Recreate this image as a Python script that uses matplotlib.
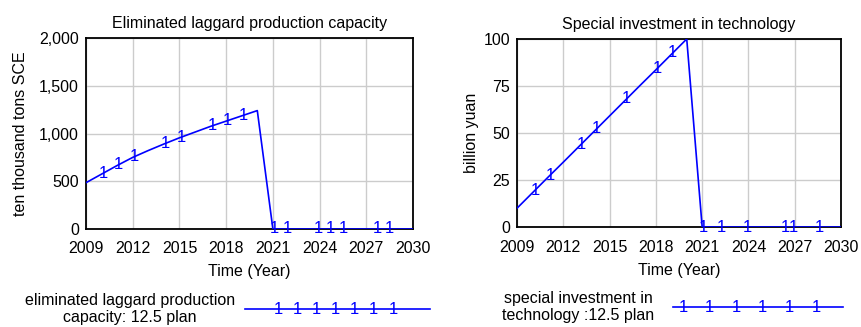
import numpy as np
import matplotlib.pyplot as plt
from matplotlib.lines import Line2D

plt.rcParams['font.family'] = ['Liberation Sans', 'DejaVu Sans']

years = np.arange(2009, 2031)
# eliminated laggard production capacity (ten thousand tons SCE)
capacity = [485, 575, 665, 750, 822, 890, 955, 1015, 1075, 1130, 1185, 1240,
            0, 0, 0, 0, 0, 0, 0, 0, 0, 0]
# special investment in technology (billion yuan)
investment = [10, 18.2, 26.4, 34.5, 42.7, 50.9, 59.1, 67.3, 75.5, 83.6, 91.8,
              100, 0, 0, 0, 0, 0, 0, 0, 0, 0, 0]

# where the "1" run markers sit (years)
cap_marks = [2010.1, 2011.1, 2012.1, 2014.1, 2015.1, 2017.1, 2018.1, 2019.1,
             2021.07, 2021.93, 2023.9, 2024.7, 2025.5, 2027.7, 2028.5]
inv_marks = [2010.17, 2011.14, 2013.15, 2014.17, 2016.1, 2018.1, 2019.1,
             2021.1, 2022.27, 2023.9, 2026.4, 2026.9, 2028.6]

xticks = [2009, 2012, 2015, 2018, 2021, 2024, 2027, 2030]
blue = '#0000ff'
fs = 11.5

fig = plt.figure(figsize=(8.61, 3.27), dpi=100)
ax1 = fig.add_axes([0.0999, 0.2997, 0.3798, 0.584])
ax2 = fig.add_axes([0.6005, 0.3058, 0.3763, 0.575])


def draw(ax, y, marks, ylim, yticks, title, ylabel, ylx, xly):
    ax.plot(years, y, color=blue, lw=1.2, zorder=3)
    for m in marks:
        ax.text(m, np.interp(m, years, y), '1', color=blue, fontsize=12,
                ha='center', va='center', clip_on=False, zorder=4)
    ax.set_xlim(2009, 2030)
    ax.set_ylim(*ylim)
    ax.set_xticks(xticks)
    ax.set_yticks(yticks)
    ax.set_yticklabels([f'{v:,}' for v in yticks])
    ax.grid(True, color='#cccccc', lw=1)
    ax.set_axisbelow(True)
    ax.tick_params(axis='x', length=0, labelsize=fs, pad=9)
    ax.tick_params(axis='y', length=0, labelsize=fs, pad=5)
    for s in ax.spines.values():
        s.set_linewidth(1.3)
    ax.set_title(title, fontsize=fs, pad=7)
    ax.set_xlabel('Time (Year)', fontsize=fs)
    ax.xaxis.set_label_coords(0.5, xly)
    ax.xaxis.label.set_va('center')
    ax.set_ylabel(ylabel, fontsize=fs)
    ax.yaxis.set_label_coords(ylx, 0.5)
    ax.yaxis.label.set_va('center')


draw(ax1, capacity, cap_marks, (0, 2000), [0, 500, 1000, 1500, 2000],
     'Eliminated laggard production capacity', 'ten thousand tons SCE',
     -0.199, -0.225)
draw(ax2, investment, inv_marks, (0, 100), [0, 25, 50, 75, 100],
     'Special investment in technology', 'billion yuan', -0.139, -0.229)


def legend(x0, x1, y, xs, label, tx):
    fig.add_artist(Line2D([x0 / 861, x1 / 861], [1 - y / 327] * 2,
                          color=blue, lw=1.2))
    for x in xs:
        fig.text(x / 861, 1 - y / 327, '1', color=blue, fontsize=12,
                 ha='center', va='center')
    fig.text(tx / 861, 1 - y / 327, label, fontsize=fs, ha='center',
             va='center', linespacing=1.15)


legend(245, 430, 309, np.linspace(278, 393, 7),
       'eliminated laggard production\ncapacity: 12.5 plan', 130)
legend(673, 843, 307, np.linspace(683, 816, 6),
       'special investment in\ntechnology :12.5 plan', 578)

fig.savefig('out.png', dpi=100)
